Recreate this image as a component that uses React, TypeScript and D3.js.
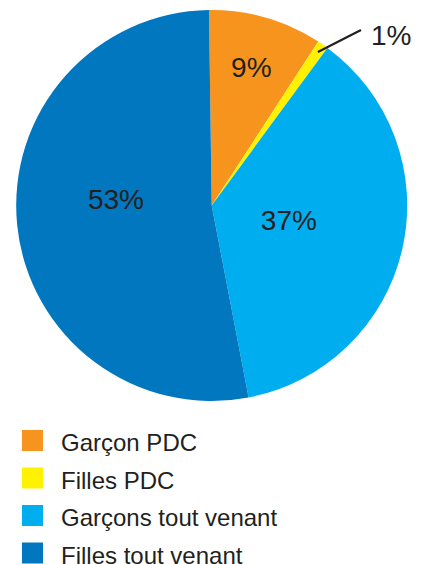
import React from "react";
import * as d3 from "d3";

const categories = ["Garçon PDC", "Filles PDC", "Garçons tout venant", "Filles tout venant"];
const values = [9.4, 0.9, 36.9, 52.8];
const labels = ["9%", "1%", "37%", "53%"];
const colors = ["#F7941D", "#FFF200", "#00AEEF", "#0077BF"];

const W = 425;
const H = 564;
const cx = 211.7;
const cy = 205.5;
const R = 195.5;
const startRot = -0.8 * Math.PI / 180;
const textColor = "#231F20";
const font = "'Liberation Sans', Arial, Helvetica, sans-serif";

export default function App() {
  const pie = d3
    .pie<number>()
    .sort(null)
    .value((d) => d)
    .startAngle(startRot)
    .endAngle(startRot + 2 * Math.PI);
  const arcs = pie(values);
  const arcGen = d3.arc<d3.PieArcDatum<number>>().innerRadius(0).outerRadius(R);

  const labelR = [0.73, 0, 0.41, 0.5];
  const labelShift = [
    [0, 9],
    [0, 0],
    [-1, 7],
    [0, 9],
  ];

  const small = arcs[1];
  const smallMid = (small.startAngle + small.endAngle) / 2;
  const p0 = [cx + Math.sin(smallMid) * (R * 0.955), cy - Math.cos(smallMid) * (R * 0.955)];
  const p1 = [361, 30];

  return (
    <svg width={W} height={H} style={{ position: "absolute", left: 0, top: 0, background: "#fff" }}>
      <g transform={`translate(${cx},${cy})`}>
        {arcs.map((a, i) => (
          <path key={i} d={arcGen(a) || ""} fill={colors[i]} />
        ))}
      </g>
      {arcs.map((a, i) => {
        if (i === 1) return null;
        const mid = (a.startAngle + a.endAngle) / 2;
        let x = cx + Math.sin(mid) * R * labelR[i] + labelShift[i][0];
        let y = cy - Math.cos(mid) * R * labelR[i] + labelShift[i][1];
        if (i === 3) {
          x = 116;
          y = 209;
        }
        return (
          <text key={i} x={x} y={y} textAnchor="middle" fontFamily={font} fontSize={28} fill={textColor}>
            {labels[i]}
          </text>
        );
      })}
      <line x1={p0[0]} y1={p0[1]} x2={p1[0]} y2={p1[1]} stroke={textColor} strokeWidth={2.2} />
      <text x={371} y={44.5} fontFamily={font} fontSize={28} fill={textColor}>
        {labels[1]}
      </text>
      {categories.map((c, i) => (
        <g key={c} transform={`translate(0,${430 + i * 37.5})`}>
          <rect x={22} y={0} width={21} height={21} fill={colors[i]} />
          <text x={61} y={21} fontFamily={font} fontSize={24} fill={textColor}>
            {c}
          </text>
        </g>
      ))}
    </svg>
  );
}
